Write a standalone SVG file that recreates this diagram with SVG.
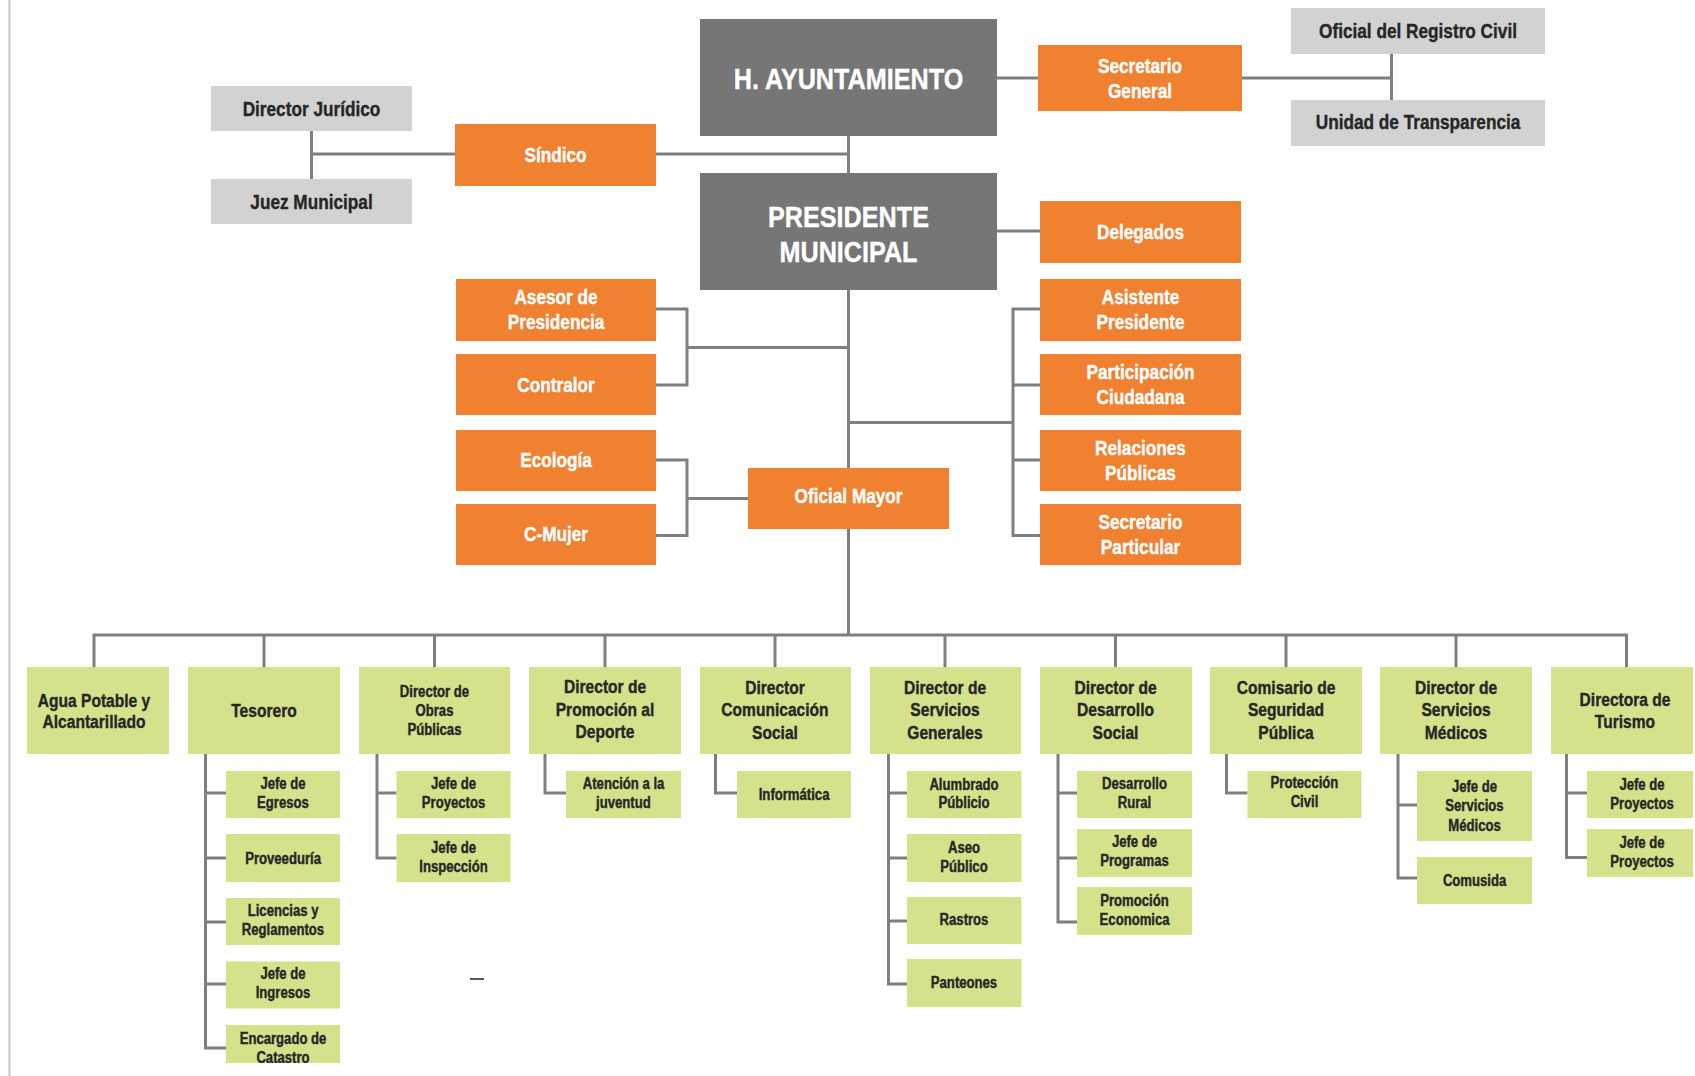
<svg xmlns="http://www.w3.org/2000/svg" width="1695" height="1076" viewBox="0 0 1695 1076">
<style>
  .dg{fill:#767676}
  .og{fill:#EF8131}
  .lg{fill:#D2D2D2}
  .gr{fill:#D6E18B}
  text{font-family:"Liberation Sans",Arial,sans-serif;font-weight:700;text-anchor:middle;transform-box:fill-box;transform-origin:50% 50%;transform:scaleX(0.82)}
  .tw{fill:#FFFFFF;stroke:#FFFFFF;stroke-width:0.4}
  .tk{fill:#262626;stroke:#262626;stroke-width:0.4}
  .f30{font-size:30px;transform:scaleX(0.84)}
  .f21{font-size:21px}
  .f19{font-size:19px}
  .f16{font-size:16px}
  .conn path{stroke:#7F7F7F;stroke-width:3;fill:none}
</style>
<defs>
  <clipPath id="clipCat"><rect x="226" y="1025" width="114" height="38"/></clipPath>
</defs>
<rect x="0" y="0" width="1695" height="1076" fill="#FFFFFF"/>
<line x1="9.5" y1="0" x2="9.5" y2="1076" stroke="#C6C6C6" stroke-width="2"/>

<g class="conn" id="connectors">
  <path d="M848.5,136V173"/>
  <path d="M311.5,131V179M311.5,154H455M656,154H848.5"/>
  <path d="M997,78H1038M1242,78H1391.5M1391.5,54V100"/>
  <path d="M997,231H1040"/>
  <path d="M848.5,290V468M848.5,529V635"/>
  <path d="M656,309H687V385H656M687,347.5H848.5"/>
  <path d="M656,460H687V535.5H656M687,498.5H748"/>
  <path d="M1040,309H1013V535.5H1040M1013,385H1040M1013,460H1040M848.5,422.5H1013"/>
  <path d="M94,667V635H1626.5V667"/>
  <path d="M264,635V667M434.5,635V667M605,635V667M775,635V667M945,635V667M1115.5,635V667M1286,635V667M1456,635V667"/>
  <path d="M205.5,754V1048H226M205.5,793H226M205.5,858H226M205.5,922H226M205.5,984H226"/>
  <path d="M377,754V858H396.5M377,793H396.5"/>
  <path d="M545,754V793H566"/>
  <path d="M715.5,754V793H737"/>
  <path d="M888.5,754V984H907M888.5,793H907M888.5,858H907M888.5,921H907"/>
  <path d="M1058,754V922H1077M1058,793H1077M1058,858H1077"/>
  <path d="M1226.5,754V793H1247.5"/>
  <path d="M1398,754V878H1417M1398,805H1417"/>
  <path d="M1566.5,754V857.5H1587M1566.5,793H1587"/>
</g>

<g id="ayuntamiento"><rect class="dg" x="700" y="19" width="297" height="117"/><text class="tw f30" x="848.5" y="89">H. AYUNTAMIENTO</text></g>
<g id="presidente"><rect class="dg" x="700" y="173" width="297" height="117"/><text class="tw f30" x="848.5" y="227">PRESIDENTE</text><text class="tw f30" x="848.5" y="262">MUNICIPAL</text></g>
<g id="sindico"><rect class="og" x="455" y="124" width="201" height="62"/><text class="tw f21" x="555.5" y="162">Síndico</text></g>
<g id="director-juridico"><rect class="lg" x="211" y="86" width="201" height="45"/><text class="tk f21" x="311.5" y="116">Director Jurídico</text></g>
<g id="juez-municipal"><rect class="lg" x="211" y="179" width="201" height="45"/><text class="tk f21" x="311.5" y="209">Juez Municipal</text></g>
<g id="secretario-general"><rect class="og" x="1038" y="45" width="204" height="66"/><text class="tw f21" x="1140" y="73">Secretario</text><text class="tw f21" x="1140" y="98.5">General</text></g>
<g id="oficial-registro"><rect class="lg" x="1291" y="8" width="254" height="46"/><text class="tk f21" x="1418" y="38">Oficial del Registro Civil</text></g>
<g id="unidad-transparencia"><rect class="lg" x="1291" y="100" width="254" height="46"/><text class="tk f21" x="1418" y="129">Unidad de Transparencia</text></g>
<g id="delegados"><rect class="og" x="1040" y="201" width="201" height="62"/><text class="tw f21" x="1140.5" y="239">Delegados</text></g>
<g id="asesor"><rect class="og" x="456" y="279" width="200" height="62"/><text class="tw f21" x="556" y="304.5">Asesor de</text><text class="tw f21" x="556" y="329.5">Presidencia</text></g>
<g id="contralor"><rect class="og" x="456" y="354" width="200" height="61"/><text class="tw f21" x="556" y="392.5">Contralor</text></g>
<g id="ecologia"><rect class="og" x="456" y="430" width="200" height="61"/><text class="tw f21" x="556" y="467">Ecología</text></g>
<g id="cmujer"><rect class="og" x="456" y="504" width="200" height="61"/><text class="tw f21" x="556" y="541.5">C-Mujer</text></g>
<g id="oficial-mayor"><rect class="og" x="748" y="468" width="201" height="61"/><text class="tw f21" x="848.5" y="503">Oficial Mayor</text></g>
<g id="asistente"><rect class="og" x="1040" y="279" width="201" height="62"/><text class="tw f21" x="1140.5" y="304.5">Asistente</text><text class="tw f21" x="1140.5" y="329.5">Presidente</text></g>
<g id="participacion"><rect class="og" x="1040" y="354" width="201" height="61"/><text class="tw f21" x="1140.5" y="379.5">Participación</text><text class="tw f21" x="1140.5" y="404.5">Ciudadana</text></g>
<g id="relaciones"><rect class="og" x="1040" y="430" width="201" height="61"/><text class="tw f21" x="1140.5" y="455">Relaciones</text><text class="tw f21" x="1140.5" y="480">Públicas</text></g>
<g id="secretario-particular"><rect class="og" x="1040" y="504" width="201" height="61"/><text class="tw f21" x="1140.5" y="529.5">Secretario</text><text class="tw f21" x="1140.5" y="554.5">Particular</text></g>

<g id="agua"><rect class="gr" x="27" y="667" width="142" height="87"/><text class="tk f19" x="94" y="707">Agua Potable y</text><text class="tk f19" x="94" y="728.5">Alcantarillado</text></g>
<g id="tesorero"><rect class="gr" x="188" y="667" width="152" height="87"/><text class="tk f19" x="264" y="717.5">Tesorero</text></g>
<g id="obras"><rect class="gr" x="359" y="667" width="151" height="87"/><text class="tk f16" x="434.5" y="697">Director de</text><text class="tk f16" x="434.5" y="716">Obras</text><text class="tk f16" x="434.5" y="735">Públicas</text></g>
<g id="deporte"><rect class="gr" x="529" y="667" width="152" height="87"/><text class="tk f19" x="605" y="693.5">Director de</text><text class="tk f19" x="605" y="716">Promoción al</text><text class="tk f19" x="605" y="738.5">Deporte</text></g>
<g id="comunicacion"><rect class="gr" x="700" y="667" width="151" height="87"/><text class="tk f19" x="775" y="694">Director</text><text class="tk f19" x="775" y="716.5">Comunicación</text><text class="tk f19" x="775" y="739">Social</text></g>
<g id="servicios-generales"><rect class="gr" x="870" y="667" width="151" height="87"/><text class="tk f19" x="945" y="694">Director de</text><text class="tk f19" x="945" y="716.5">Servicios</text><text class="tk f19" x="945" y="739">Generales</text></g>
<g id="desarrollo-social"><rect class="gr" x="1040" y="667" width="152" height="87"/><text class="tk f19" x="1115.5" y="694">Director de</text><text class="tk f19" x="1115.5" y="716.5">Desarrollo</text><text class="tk f19" x="1115.5" y="739">Social</text></g>
<g id="seguridad"><rect class="gr" x="1210" y="667" width="152" height="87"/><text class="tk f19" x="1286" y="694">Comisario de</text><text class="tk f19" x="1286" y="716.5">Seguridad</text><text class="tk f19" x="1286" y="739">Pública</text></g>
<g id="servicios-medicos"><rect class="gr" x="1380" y="667" width="152" height="87"/><text class="tk f19" x="1456" y="694">Director de</text><text class="tk f19" x="1456" y="716.5">Servicios</text><text class="tk f19" x="1456" y="739">Médicos</text></g>
<g id="turismo"><rect class="gr" x="1551" y="667" width="142" height="87"/><text class="tk f19" x="1625" y="706">Directora de</text><text class="tk f19" x="1625" y="728.5">Turismo</text></g>

<g id="jefe-egresos"><rect class="gr" x="226" y="771" width="114" height="47"/><text class="tk f16" x="283" y="789.5">Jefe de</text><text class="tk f16" x="283" y="808.5">Egresos</text></g>
<g id="proveeduria"><rect class="gr" x="226" y="834" width="114" height="48"/><text class="tk f16" x="283" y="864">Proveeduría</text></g>
<g id="licencias"><rect class="gr" x="226" y="898" width="114" height="47"/><text class="tk f16" x="283" y="916">Licencias y</text><text class="tk f16" x="283" y="935">Reglamentos</text></g>
<g id="jefe-ingresos"><rect class="gr" x="226" y="961.5" width="114" height="47"/><text class="tk f16" x="283" y="979">Jefe de</text><text class="tk f16" x="283" y="998.5">Ingresos</text></g>
<g id="catastro"><rect class="gr" x="226" y="1025" width="114" height="38"/><g clip-path="url(#clipCat)"><text class="tk f16" x="283" y="1044">Encargado de</text><text class="tk f16" x="283" y="1063">Catastro</text></g></g>

<g id="obras-proyectos"><rect class="gr" x="396.5" y="771" width="114" height="47"/><text class="tk f16" x="453.5" y="789.5">Jefe de</text><text class="tk f16" x="453.5" y="808.5">Proyectos</text></g>
<g id="obras-inspeccion"><rect class="gr" x="396.5" y="834" width="114" height="48"/><text class="tk f16" x="453.5" y="853">Jefe de</text><text class="tk f16" x="453.5" y="872">Inspección</text></g>
<line x1="470" y1="979" x2="484" y2="979" stroke="#555555" stroke-width="2"/>

<g id="atencion-juventud"><rect class="gr" x="566" y="771" width="115" height="47"/><text class="tk f16" x="623.5" y="789.5">Atención a la</text><text class="tk f16" x="623.5" y="808.5">juventud</text></g>
<g id="informatica"><rect class="gr" x="737" y="771" width="114" height="47"/><text class="tk f16" x="794" y="800">Informática</text></g>

<g id="alumbrado"><rect class="gr" x="907" y="771" width="114.5" height="47"/><text class="tk f16" x="964" y="790">Alumbrado</text><text class="tk f16" x="964" y="808.5">Públicio</text></g>
<g id="aseo"><rect class="gr" x="907" y="834" width="114.5" height="48"/><text class="tk f16" x="964" y="853">Aseo</text><text class="tk f16" x="964" y="872">Público</text></g>
<g id="rastros"><rect class="gr" x="907" y="897" width="114.5" height="47"/><text class="tk f16" x="964" y="925">Rastros</text></g>
<g id="panteones"><rect class="gr" x="907" y="959" width="114.5" height="48"/><text class="tk f16" x="964" y="988.5">Panteones</text></g>

<g id="desarrollo-rural"><rect class="gr" x="1077" y="771" width="115" height="47"/><text class="tk f16" x="1134.5" y="789">Desarrollo</text><text class="tk f16" x="1134.5" y="808.5">Rural</text></g>
<g id="jefe-programas"><rect class="gr" x="1077" y="829" width="115" height="48"/><text class="tk f16" x="1134.5" y="847">Jefe de</text><text class="tk f16" x="1134.5" y="866">Programas</text></g>
<g id="promocion-economica"><rect class="gr" x="1077" y="887" width="115" height="48"/><text class="tk f16" x="1134.5" y="906.5">Promoción</text><text class="tk f16" x="1134.5" y="925.5">Economica</text></g>

<g id="proteccion-civil"><rect class="gr" x="1247.5" y="771" width="114" height="47"/><text class="tk f16" x="1304.5" y="788.5">Protección</text><text class="tk f16" x="1304.5" y="807.5">Civil</text></g>

<g id="jefe-servicios-medicos"><rect class="gr" x="1417" y="771" width="115" height="70"/><text class="tk f16" x="1474.5" y="792">Jefe de</text><text class="tk f16" x="1474.5" y="811.5">Servicios</text><text class="tk f16" x="1474.5" y="831">Médicos</text></g>
<g id="comusida"><rect class="gr" x="1417" y="857" width="115" height="47"/><text class="tk f16" x="1474.5" y="886.5">Comusida</text></g>

<g id="turismo-proyectos-1"><rect class="gr" x="1587" y="771" width="106" height="47"/><text class="tk f16" x="1642" y="790">Jefe de</text><text class="tk f16" x="1642" y="809">Proyectos</text></g>
<g id="turismo-proyectos-2"><rect class="gr" x="1587" y="829" width="106" height="48"/><text class="tk f16" x="1642" y="848">Jefe de</text><text class="tk f16" x="1642" y="867">Proyectos</text></g>
</svg>
